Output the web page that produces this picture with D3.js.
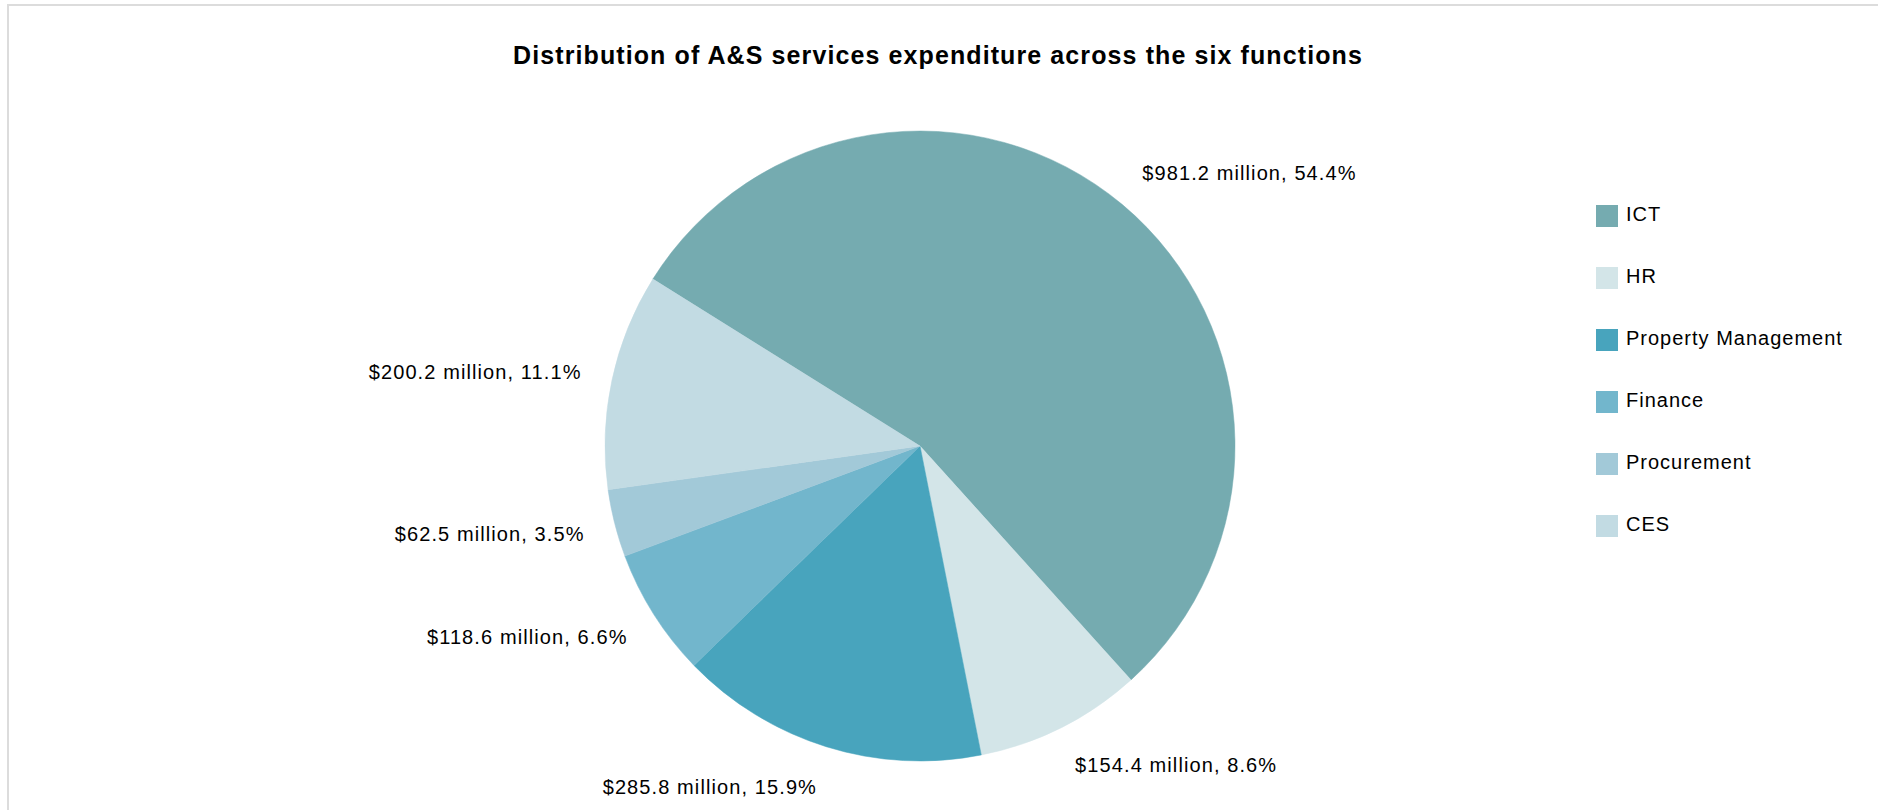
<!DOCTYPE html>
<html>
<head>
<meta charset="utf-8">
<script src="https://cdn.jsdelivr.net/npm/d3@7"></script>
<style>
  html, body { margin: 0; padding: 0; background: #ffffff; }
  svg { display: block; font-family: "Liberation Sans", Arial, sans-serif; }
</style>
</head>
<body>
<svg id="chart" width="1878" height="810"></svg>
<script>
// A&S services expenditure by function ($ million)
const categories = ["ICT", "HR", "Property Management", "Finance", "Procurement", "CES"];
const expenditure = [981.2, 154.4, 285.8, 118.6, 62.5, 200.2];
const shareLabels = ["54.4%", "8.6%", "15.9%", "6.6%", "3.5%", "11.1%"];
const sliceColors = ["#75abb0", "#d3e5e8", "#48a4bd", "#72b6cc", "#a2c9d8", "#c2dbe3"];
const titleText = "Distribution of A&S services expenditure across the six functions";

const width = 1878, height = 810;
const cx = 920, cy = 446, radius = 315;
const labelRadius = 346;
const startDeg = -58;

const svg = d3.select("#chart");

// light frame around the chart area
svg.append("rect")
  .attr("x", 8).attr("y", 5)
  .attr("width", width + 20).attr("height", height + 20)
  .attr("fill", "#ffffff")
  .attr("stroke", "#dcdcdc")
  .attr("stroke-width", 2);

svg.append("text")
  .attr("x", 938).attr("y", 64)
  .attr("text-anchor", "middle")
  .attr("font-size", 25)
  .attr("font-weight", "bold")
  .attr("letter-spacing", "1.1px")
  .attr("fill", "#000000")
  .text(titleText);

const data = categories.map((c, i) => ({
  name: c, value: expenditure[i], share: shareLabels[i]
}));

const color = d3.scaleOrdinal().domain(categories).range(sliceColors);

const pie = d3.pie()
  .value(d => d.value)
  .sort(null)
  .startAngle(startDeg * Math.PI / 180)
  .endAngle(startDeg * Math.PI / 180 + 2 * Math.PI);

const arcs = pie(data);
const arc = d3.arc().innerRadius(0).outerRadius(radius);

const g = svg.append("g").attr("transform", `translate(${cx},${cy})`);

g.selectAll("path.slice")
  .data(arcs)
  .join("path")
  .attr("class", "slice")
  .attr("d", arc)
  .attr("fill", d => color(d.data.name))
  .attr("stroke", d => color(d.data.name))
  .attr("stroke-width", 0.5);

// data labels outside each slice: side edge on the mid-angle ray,
// vertical offset follows the direction of the ray
const halfBox = 11, centerToBaseline = 7.2;
g.selectAll("text.value")
  .data(arcs)
  .join("text")
  .attr("class", "value")
  .attr("font-size", 20)
  .attr("letter-spacing", "1.1px")
  .attr("fill", "#000000")
  .each(function(d) {
    const a = (d.startAngle + d.endAngle) / 2;
    const sx = Math.sin(a), sy = -Math.cos(a);
    const px = labelRadius * sx, py = labelRadius * sy;
    d3.select(this)
      .attr("x", px)
      .attr("y", py + sy * halfBox + centerToBaseline)
      .attr("text-anchor", sx >= 0 ? "start" : "end");
  })
  .text(d => `$${d3.format(".1f")(d.data.value)} million, ${d.data.share}`);

// legend
const legendY = d3.scalePoint().domain(categories).range([205, 515]);
const legend = svg.append("g");
const items = legend.selectAll("g.item")
  .data(categories)
  .join("g")
  .attr("class", "item")
  .attr("transform", d => `translate(1596,${legendY(d)})`);

items.append("rect")
  .attr("width", 22).attr("height", 22)
  .attr("fill", d => color(d));

items.append("text")
  .attr("x", 30).attr("y", 16)
  .attr("font-size", 20)
  .attr("letter-spacing", "1px")
  .attr("fill", "#000000")
  .text(d => d);
</script>
</body>
</html>
